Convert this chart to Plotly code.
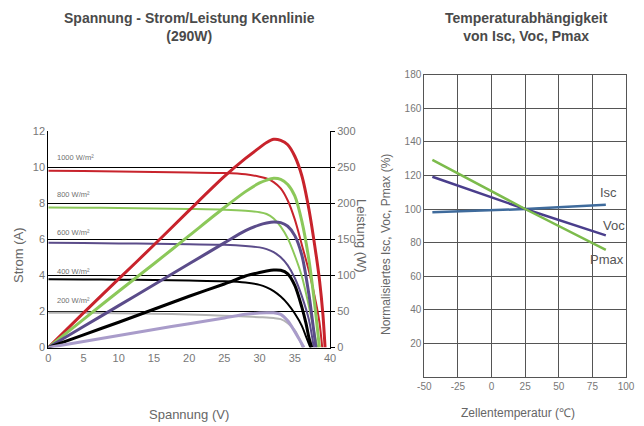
import plotly.graph_objects as go

# ---------------- Left chart data ----------------
V_1000 = [0, 5, 10, 15, 20, 25, 28, 30, 31, 32, 33, 34, 35, 36, 37, 38, 38.5, 38.9]
I_1000 = [9.8, 9.78, 9.75, 9.73, 9.7, 9.67, 9.6, 9.47, 9.37, 9.17, 8.82, 8.15, 7.1, 5.7, 4.25, 2.5, 1.4, 0]
PV_1000 = [0, 5, 10, 15, 20, 25, 28, 30, 31, 32, 33, 34, 35, 36, 37, 38, 38.5, 39, 39.3]
P_1000 = [0, 48, 95, 142, 190, 237, 262, 277, 284, 288.5, 287, 281, 265, 238, 192, 130, 94, 45, 0]

V_800 = [0, 5, 10, 15, 20, 25, 28, 30, 31, 32, 33, 34, 35, 36, 37, 37.6, 38.2]
I_800 = [7.76, 7.75, 7.73, 7.71, 7.68, 7.64, 7.58, 7.5, 7.4, 7.15, 6.7, 6.05, 5.1, 3.95, 2.3, 1.15, 0]
PV_800 = [0, 5, 10, 15, 20, 25, 28, 30, 31, 32, 33, 34, 35, 36, 37, 37.5, 38, 38.5]
P_800 = [0, 39, 78, 116, 155, 194, 216, 228, 232, 234.5, 233, 226, 210, 175, 122, 86, 45, 0]

V_600 = [0, 5, 10, 15, 20, 25, 28, 30, 31, 32, 33, 34, 35, 36, 37, 37.7]
I_600 = [5.8, 5.79, 5.77, 5.75, 5.72, 5.69, 5.63, 5.55, 5.45, 5.28, 5.0, 4.55, 3.85, 2.85, 1.55, 0]
PV_600 = [0, 5, 10, 15, 20, 25, 28, 30, 31, 32, 33, 34, 35, 36, 37, 37.5, 38]
P_600 = [0, 29, 58, 87, 116, 145, 162, 170, 172.5, 174, 173, 168, 155, 128, 74, 38, 0]

V_400 = [0, 5, 10, 15, 20, 25, 28, 30, 31, 32, 33, 34, 35, 36, 36.6, 37.2]
I_400 = [3.78, 3.77, 3.76, 3.74, 3.71, 3.67, 3.6, 3.47, 3.33, 3.12, 2.82, 2.42, 1.88, 1.2, 0.6, 0]
PV_400 = [0, 5, 10, 15, 20, 25, 28, 30, 31, 32, 33, 34, 35, 36, 36.6, 37, 37.4]
P_400 = [0, 17.6, 35, 53, 71, 88, 99, 104, 106, 107.4, 107, 102, 86, 56, 33, 14, 0]

V_200 = [0, 5, 10, 15, 20, 25, 28, 30, 32, 33, 34, 35, 35.5, 36.1]
I_200 = [1.93, 1.92, 1.9, 1.87, 1.83, 1.76, 1.72, 1.68, 1.63, 1.57, 1.35, 0.95, 0.6, 0]
PV_200 = [0, 5, 10, 15, 20, 25, 28, 30, 31, 32, 33, 34, 35, 35.6, 36.3]
P_200 = [0, 8.3, 16.5, 25, 33, 41, 46, 47.8, 48.2, 48.2, 46, 37, 22, 12, 0]

irr_labels = ["1000 W/m²", "800 W/m²", "600 W/m²", "400 W/m²", "200 W/m²"]
irr_label_pos = [10.55, 8.5, 6.4, 4.2, 2.6]

# ---------------- Right chart data ----------------
temps = [-44, 25, 85]
isc = [98.0, 100, 102.6]
voc = [119.2, 100, 84.3]
pmax = [129.3, 100, 75.6]
temp_labels = ["Isc", "Voc", "Pmax"]
temp_ticks = [-50, -25, 0, 25, 50, 75, 100]
temp_ticktext = ["-50", "-25", "0", "25", "50", "75", "100"]
norm_ticks = [20, 40, 60, 80, 100, 120, 140, 160, 180]

RED = "#c8232c"
GREEN = "#8cc85a"
PURPLE = "#5b4c8a"
BLACK = "#000000"
LPURPLE = "#a99cca"
GRAY = "#b4b4b4"

FONT = "Liberation Sans, Arial, sans-serif"
TXT = "#666666"

fig = go.Figure()

iv_sets = [(V_1000, I_1000, RED), (V_800, I_800, GREEN), (V_600, I_600, PURPLE),
           (V_400, I_400, BLACK), (V_200, I_200, GRAY)]
p_sets = [(PV_1000, P_1000, RED), (PV_800, P_800, GREEN), (PV_600, P_600, PURPLE),
          (PV_400, P_400, BLACK), (PV_200, P_200, LPURPLE)]

for v, i, c in iv_sets:
    fig.add_trace(go.Scatter(x=v, y=i, mode="lines", xaxis="x", yaxis="y",
                             line=dict(color=c, width=2, shape="spline", smoothing=0.8),
                             showlegend=False, hoverinfo="skip"))
for v, p, c in p_sets:
    fig.add_trace(go.Scatter(x=v, y=p, mode="lines", xaxis="x", yaxis="y2",
                             line=dict(color=c, width=3, shape="spline", smoothing=0.8),
                             showlegend=False, hoverinfo="skip"))

fig.add_trace(go.Scatter(x=temps, y=isc, mode="lines", xaxis="x2", yaxis="y3",
                         line=dict(color="#3f6b9c", width=2.5), showlegend=False))
fig.add_trace(go.Scatter(x=temps, y=voc, mode="lines", xaxis="x2", yaxis="y3",
                         line=dict(color="#4a3e8c", width=2.5), showlegend=False))
fig.add_trace(go.Scatter(x=temps, y=pmax, mode="lines", xaxis="x2", yaxis="y3",
                         line=dict(color="#7cbb4c", width=2.5), showlegend=False))

annotations = []
for lab, yv in zip(irr_labels, irr_label_pos):
    annotations.append(dict(x=1.0, y=yv, xref="x", yref="y", text=lab, showarrow=False,
                            xanchor="left", yanchor="middle",
                            font=dict(family=FONT, size=7.5, color="#707070")))

# right-chart line labels
for lab, tx, ty in zip(temp_labels, [87, 91, 86], [110, 90, 70]):
    annotations.append(dict(x=tx, y=ty, xref="x2", yref="y3", text=lab, showarrow=False,
                            xanchor="center", yanchor="middle",
                            font=dict(family=FONT, size=13, color="#555555")))

# titles
annotations.append(dict(x=189 / 644, y=1 - 27 / 426, xref="paper", yref="paper",
                        text="<b>Spannung - Strom/Leistung Kennlinie<br>(290W)</b>",
                        showarrow=False, xanchor="center", yanchor="middle",
                        font=dict(family=FONT, size=14, color="#4a4a4a")))
annotations.append(dict(x=526 / 644, y=1 - 27 / 426, xref="paper", yref="paper",
                        text="<b>Temperaturabhängigkeit<br>von Isc, Voc, Pmax</b>",
                        showarrow=False, xanchor="center", yanchor="middle",
                        font=dict(family=FONT, size=14, color="#4a4a4a")))
# axis titles
annotations.append(dict(x=18 / 644, y=1 - 255 / 426, xref="paper", yref="paper",
                        text="Strom (A)", textangle=-90, showarrow=False,
                        xanchor="center", yanchor="middle",
                        font=dict(family=FONT, size=13, color=TXT)))
annotations.append(dict(x=362 / 644, y=1 - 236 / 426, xref="paper", yref="paper",
                        text="Leistung (W)", textangle=90, showarrow=False,
                        xanchor="center", yanchor="middle",
                        font=dict(family=FONT, size=13, color=TXT)))
annotations.append(dict(x=189 / 644, y=1 - 414 / 426, xref="paper", yref="paper",
                        text="Spannung (V)", showarrow=False,
                        xanchor="center", yanchor="middle",
                        font=dict(family=FONT, size=13, color=TXT)))
annotations.append(dict(x=386 / 644, y=1 - 245 / 426, xref="paper", yref="paper",
                        text="Normalisiertes Isc, Voc, Pmax (%)", textangle=-90, showarrow=False,
                        xanchor="center", yanchor="middle",
                        font=dict(family=FONT, size=12, color=TXT)))
annotations.append(dict(x=518 / 644, y=1 - 413 / 426, xref="paper", yref="paper",
                        text="Zellentemperatur (℃)", showarrow=False,
                        xanchor="center", yanchor="middle",
                        font=dict(family=FONT, size=12, color=TXT)))

fig.update_layout(
    width=644, height=426,
    margin=dict(l=0, r=0, t=0, b=0, autoexpand=False),
    paper_bgcolor="white", plot_bgcolor="white",
    font=dict(family=FONT, color=TXT),
    showlegend=False,
    annotations=annotations,
    xaxis=dict(domain=[48.3 / 644, 330 / 644], range=[0, 40], dtick=5, anchor="y",
               automargin=False,
               showline=True, linecolor="black", linewidth=1, showgrid=False, zeroline=False,
               ticks="", tickfont=dict(size=11, color="#777777")),
    yaxis=dict(domain=[1 - 347.5 / 426, 1 - 131 / 426], range=[0, 12], dtick=2, anchor="x",
               automargin=False,
               showline=True, linecolor="black", linewidth=1, showgrid=False, zeroline=False,
               ticks="", tickfont=dict(size=11, color="#777777"),
               minor=dict(tickvals=[2, 4, 6, 8, 10], showgrid=True, gridcolor="black",
                          gridwidth=1, ticks="")),
    yaxis2=dict(overlaying="y", side="right", anchor="x", range=[0, 300], dtick=50,
                automargin=False,
                showline=True, linecolor="black", linewidth=1, showgrid=False, zeroline=False,
                ticks="outside", ticklen=4, tickcolor="black",
                tickfont=dict(size=11, color="#777777")),
    xaxis2=dict(domain=[424.3 / 644, 626 / 644], range=[-50, 100],
                tickvals=temp_ticks, ticktext=temp_ticktext, anchor="y3",
                automargin=False,
                showline=True, mirror=True, linecolor="#555555", linewidth=1,
                showgrid=True, gridcolor="#555555", gridwidth=1, zeroline=False, ticks="",
                tickfont=dict(size=10, color="#777777")),
    yaxis3=dict(domain=[1 - 376.9 / 426, 1 - 74.7 / 426], range=[0, 180],
                tickvals=norm_ticks, anchor="x2",
                automargin=False,
                showline=True, mirror=True, linecolor="#555555", linewidth=1,
                showgrid=True, gridcolor="#555555", gridwidth=1, zeroline=False, ticks="",
                tickfont=dict(size=10, color="#777777")),
)

fig.write_html("out.html", config={"displayModeBar": False},
               post_script="document.body.style.margin='0';document.body.style.overflow='hidden';")
